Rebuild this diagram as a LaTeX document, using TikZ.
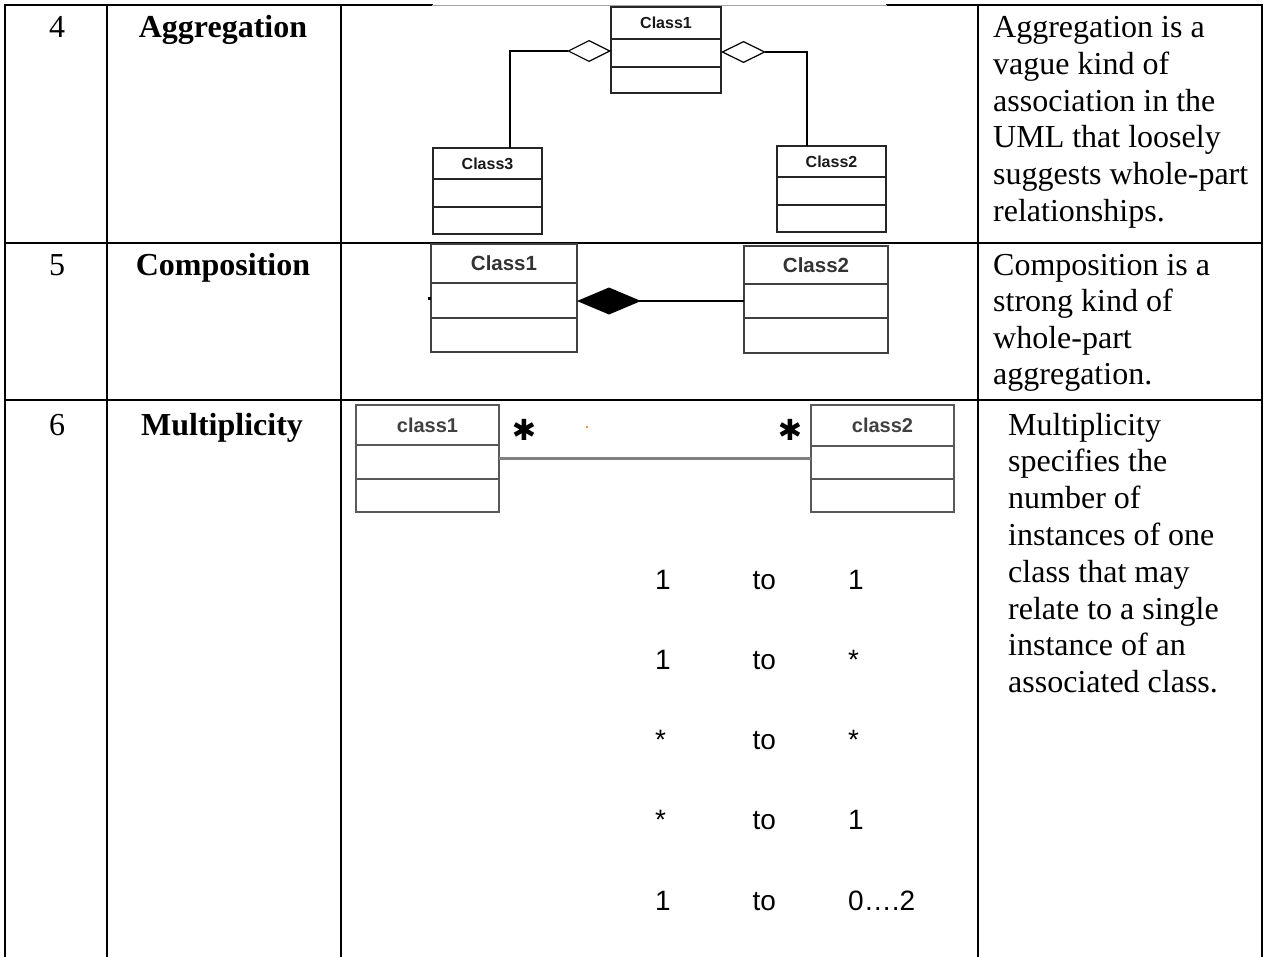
\documentclass[tikz,border=0pt]{standalone}
\usepackage{fontspec}
\setmainfont{Liberation Serif}
\newfontfamily\arialfont{Liberation Sans}
\newfontfamily\dingfont{DejaVu Sans}
\usetikzlibrary{arrows.meta,calc}

% UML class box: name, x1, y1, x2, y2, first divider y, second divider y, label, style
\newcommand\umlclass[9]{%
  \node[#9, minimum width={#4-#2}, minimum height={#5-#3}] (#1) at ({(#2+#4)/2},{(#3+#5)/2}) {};
  \draw[#9 line] (#2,#6) -- (#4,#6) (#2,#7) -- (#4,#7);
  \node[#9 text] (#1-name) at ({(#2+#4)/2},{(#3+#6)/2}) {#8};
}

\begin{document}
\begin{tikzpicture}[x=1pt,y=-1pt,
  grid/.style={line width=2pt, black, line cap=rect},
  numtext/.style={font=\fontsize{32}{36.8}\selectfont, inner sep=0, anchor=base},
  termtext/.style={font=\fontsize{32}{36.8}\selectfont\bfseries, inner sep=0, anchor=base},
  desctext/.style={font=\fontsize{32}{36.8}\selectfont, inner sep=0, anchor=base west},
  multext/.style={font=\arialfont\fontsize{28}{32}\selectfont, inner sep=0, anchor=base west},
  agg/.style={draw=black!85, line width=1.4pt, inner sep=0, outer sep=0},
  agg line/.style={draw=black!85, line width=1.4pt},
  agg text/.style={font=\arialfont\bfseries\fontsize{16}{18}\selectfont, text=black!90, inner sep=0},
  comp/.style={draw=black!75, line width=2pt, inner sep=0, outer sep=0},
  comp line/.style={draw=black!75, line width=2pt},
  comp text/.style={font=\arialfont\bfseries\fontsize{20.5}{22}\selectfont, text=black!80, inner sep=0},
  mult/.style={draw=black!65, line width=2.5pt, inner sep=0, outer sep=0},
  mult line/.style={draw=black!65, line width=2.5pt},
  mult text/.style={font=\arialfont\bfseries\fontsize{20}{22}\selectfont, text=black!75, inner sep=0},
  conn/.style={draw=black, line width=1.2pt},
  assoc/.style={draw=black!50, line width=2.5pt},
  multstar/.style={font=\dingfont\bfseries\fontsize{29}{30}\selectfont, inner sep=0},
]
\useasboundingbox (0,0) rectangle (1269,956);

% ---- table rules ----
\draw[grid] (5,5) -- (432,5);
\draw[grid] (887,5) -- (1262,5);
\draw[black!35, line width=0.8pt] (432,5) -- (887,5);
\foreach \x in {5,107,341,978,1262}
  \draw[grid] (\x,5) -- (\x,956);
\draw[grid] (5,243) -- (1262,243);
\draw[grid] (5,400) -- (1262,400);

% ---- row 4: aggregation ----
\node[numtext] (n4) at (57,37.5) {4};
\node[termtext] (t4) at (223,37.5) {Aggregation};
\foreach \s [count=\i from 0] in {Aggregation is a,vague kind of,association in the,UML that loosely,suggests whole-part,relationships.}
  \node[desctext] (d4-\i) at (993,{37.5+36.8*\i}) {\s};

\umlclass{A1}{611}{7}{721}{93}{39}{67}{Class1}{agg}
\umlclass{A3}{433}{148}{542}{234}{179}{207}{Class3}{agg}
\umlclass{A2}{777}{146}{886}{232}{177}{205}{Class2}{agg}
\draw[conn, {Diamond[open, length=44pt, width=22pt]}-] ($(A1.west)+(0,1)$) -| ($(A3.north west)!0.706!(A3.north east)$);
\draw[conn, {Diamond[open, length=45pt, width=22pt]}-] ($(A1.east)+(0,2)$) -| ($(A2.north west)!0.275!(A2.north east)$);

% ---- row 5: composition ----
\node[numtext] (n5) at (57,275) {5};
\node[termtext] (t5) at (223,275) {Composition};
\foreach \s [count=\i from 0] in {Composition is a,strong kind of,whole-part,aggregation.}
  \node[desctext] (d5-\i) at (993,{275+36.5*\i}) {\s};

\umlclass{C1}{431}{244}{577}{352}{283}{318}{Class1}{comp}
\umlclass{C2}{744}{246}{888}{353}{284}{318}{Class2}{comp}
\draw[conn, line width=1.5pt, {Diamond[length=64pt, width=27pt]}-] ($(C1.east)+(0,3)$) -- ($(C2.west)+(0,1.5)$);
\fill[black] ($(C1.west)+(-3,-1)$) rectangle ++(3,3);

% ---- row 6: multiplicity ----
\node[numtext] (n6) at (57,435) {6};
\node[termtext] (t6) at (222,435) {Multiplicity};
\foreach \s [count=\i from 0] in {Multiplicity,specifies the,number of,instances of one,class that may,relate to a single,instance of an,associated class.}
  \node[desctext] (d6-\i) at (1008,{435+36.8*\i}) {\s};

\umlclass{M1}{356}{405}{499}{512}{445}{479}{class1}{mult}
\umlclass{M2}{811}{405}{954}{512}{446}{479}{class2}{mult}
\draw[assoc] (M1.east) -- (M2.west);
\node[multstar] (s1) at (524,430) {✱};
\node[multstar] (s2) at (790,430) {✱};
\fill[orange!90!black] (587,427) circle (1.2);

\foreach \a/\b [count=\i from 0] in {1/1,1/*,*/*,*/1,1/0….2} {
  \node[multext] (ml-\i) at (655,{589+80.3*\i}) {\a};
  \node[multext] (mt-\i) at (752.5,{589+80.3*\i}) {to};
  \node[multext] (mr-\i) at (848,{589+80.3*\i}) {\b};
}
\end{tikzpicture}
\end{document}
